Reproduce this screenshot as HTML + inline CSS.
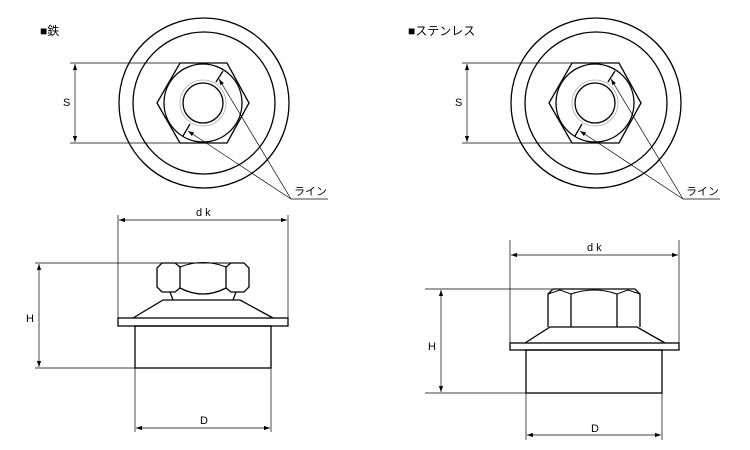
<!DOCTYPE html>
<html><head><meta charset="utf-8"><style>
html,body{margin:0;padding:0;background:#fff;width:750px;height:450px;overflow:hidden}
svg text{font-family:"Liberation Sans","Noto Sans CJK JP",sans-serif;font-size:11px;fill:#000}
</style></head><body>
<svg width="750" height="450" viewBox="0 0 750 450" xmlns="http://www.w3.org/2000/svg">
<defs>
<marker id="a" viewBox="0 0 10 10" refX="10" refY="5" markerWidth="8" markerHeight="6" orient="auto-start-reverse" markerUnits="userSpaceOnUse"><path d="M0,1.5 L10,5 L0,8.5 z" fill="#000"/></marker>
<g id="top">
<circle cx="204" cy="103" r="85" fill="none" stroke="#000" stroke-width="1.3"/>
<circle cx="204" cy="103" r="71" fill="none" stroke="#000" stroke-width="1.3"/>
<polygon points="180,63 227,63 249,103 227,143 180,143 157,103" fill="none" stroke="#000" stroke-width="1.3"/>
<circle cx="203" cy="103" r="39" fill="none" stroke="#000" stroke-width="1.3"/>
<circle cx="203" cy="103" r="23" fill="none" stroke="#aaa" stroke-width="0.8"/>
<circle cx="203" cy="103" r="20" fill="none" stroke="#000" stroke-width="1.3"/>
<line x1="216" y1="82" x2="223" y2="71" stroke="#000" stroke-width="1.3"/>
<line x1="183" y1="136" x2="190" y2="124" stroke="#000" stroke-width="1.3"/>
<line x1="70" y1="63" x2="180" y2="63" stroke="#000" stroke-width="0.7"/>
<line x1="70" y1="143" x2="180" y2="143" stroke="#000" stroke-width="0.7"/>
<line x1="75" y1="64" x2="75" y2="142" stroke="#000" stroke-width="0.7" marker-start="url(#a)" marker-end="url(#a)"/>
<text x="63" y="106">S</text>
<line x1="291" y1="199" x2="219" y2="79" stroke="#000" stroke-width="0.7" marker-end="url(#a)"/>
<line x1="291" y1="199" x2="188" y2="131" stroke="#000" stroke-width="0.7" marker-end="url(#a)"/>
<line x1="291" y1="199" x2="328" y2="199" stroke="#000" stroke-width="0.7"/>
<text x="294" y="195">ライン</text>
</g>
</defs>
<text x="40" y="35" style="font-size:12px">■鉄</text>
<use href="#top"/>
<text x="408" y="35" style="font-size:12px">■ステンレス</text>
<use href="#top" transform="translate(392,0)"/>

<!-- bottom left -->
<g stroke="#000" fill="none">
<line x1="118" y1="215" x2="118" y2="326" stroke-width="0.7"/>
<line x1="288" y1="215" x2="288" y2="326" stroke-width="0.7"/>
<line x1="119" y1="220" x2="287" y2="220" stroke-width="0.7" marker-start="url(#a)" marker-end="url(#a)"/>
<line x1="35" y1="263" x2="162" y2="263" stroke-width="0.7"/>
<line x1="35" y1="368" x2="135" y2="368" stroke-width="0.7"/>
<line x1="39" y1="264" x2="39" y2="367" stroke-width="0.7" marker-start="url(#a)" marker-end="url(#a)"/>
<line x1="135" y1="368" x2="135" y2="432" stroke-width="0.7"/>
<line x1="271" y1="368" x2="271" y2="432" stroke-width="0.7"/>
<line x1="136" y1="428" x2="270" y2="428" stroke-width="0.7" marker-start="url(#a)" marker-end="url(#a)"/>
<rect x="118" y="318" width="170" height="8" stroke-width="1.3"/>
<rect x="135" y="326" width="136" height="42" stroke-width="1.3"/>
<polyline points="133,318 163,300 240,300 273,318" stroke-width="1.3"/>
<path d="M180,267 L175,263 L162,263 L157,268 L157,287 L162,292 L175,292 L180,288" stroke-width="1.3"/>
<path d="M226,267 L231,263 L244,263 L249,268 L249,287 L244,292 L231,292 L226,288" stroke-width="1.3"/>
<path d="M180,266 L180,288 M226,266 L226,288" stroke-width="1.3"/>
<path d="M175,263 L231,263" stroke-width="1"/>
<path d="M180,267 Q203,258 226,267" stroke-width="1.1"/>
<path d="M180,288 Q203,300 226,288" stroke-width="1.3"/>
<line x1="170" y1="292" x2="173" y2="300" stroke-width="1.3"/>
<line x1="236" y1="292" x2="233" y2="300" stroke-width="1.3"/>
</g>
<text x="196" y="216">d k</text>
<text x="26" y="322">H</text>
<text x="200" y="424">D</text>

<!-- bottom right -->
<g stroke="#000" fill="none">
<line x1="510" y1="240" x2="510" y2="350" stroke-width="0.7"/>
<line x1="679" y1="240" x2="679" y2="350" stroke-width="0.7"/>
<line x1="511" y1="255" x2="678" y2="255" stroke-width="0.7" marker-start="url(#a)" marker-end="url(#a)"/>
<line x1="425" y1="289" x2="552" y2="289" stroke-width="0.7"/>
<line x1="425" y1="393" x2="526" y2="393" stroke-width="0.7"/>
<line x1="441" y1="290" x2="441" y2="392" stroke-width="0.7" marker-start="url(#a)" marker-end="url(#a)"/>
<line x1="526" y1="393" x2="526" y2="440" stroke-width="0.7"/>
<line x1="662" y1="393" x2="662" y2="440" stroke-width="0.7"/>
<line x1="527" y1="435" x2="661" y2="435" stroke-width="0.7" marker-start="url(#a)" marker-end="url(#a)"/>
<rect x="510" y="343" width="169" height="7" stroke-width="1.3"/>
<rect x="526" y="350" width="136" height="43" stroke-width="1.3"/>
<polyline points="525,343 550,327 637,327 665,343" stroke-width="1.3"/>
<path d="M548,327 L548,294 L553,289 L635,289 L640,294 L640,327" stroke-width="1.3"/>
<path d="M548,294 L560,290 L571,294 Q594,286 617,294 L628,290 L640,294" stroke-width="1"/>
<line x1="571" y1="294" x2="571" y2="327" stroke-width="1.3"/>
<line x1="617" y1="294" x2="617" y2="327" stroke-width="1.3"/>
</g>
<text x="587" y="251">d k</text>
<text x="428" y="350">H</text>
<text x="591" y="432">D</text>
</svg>
</body></html>
